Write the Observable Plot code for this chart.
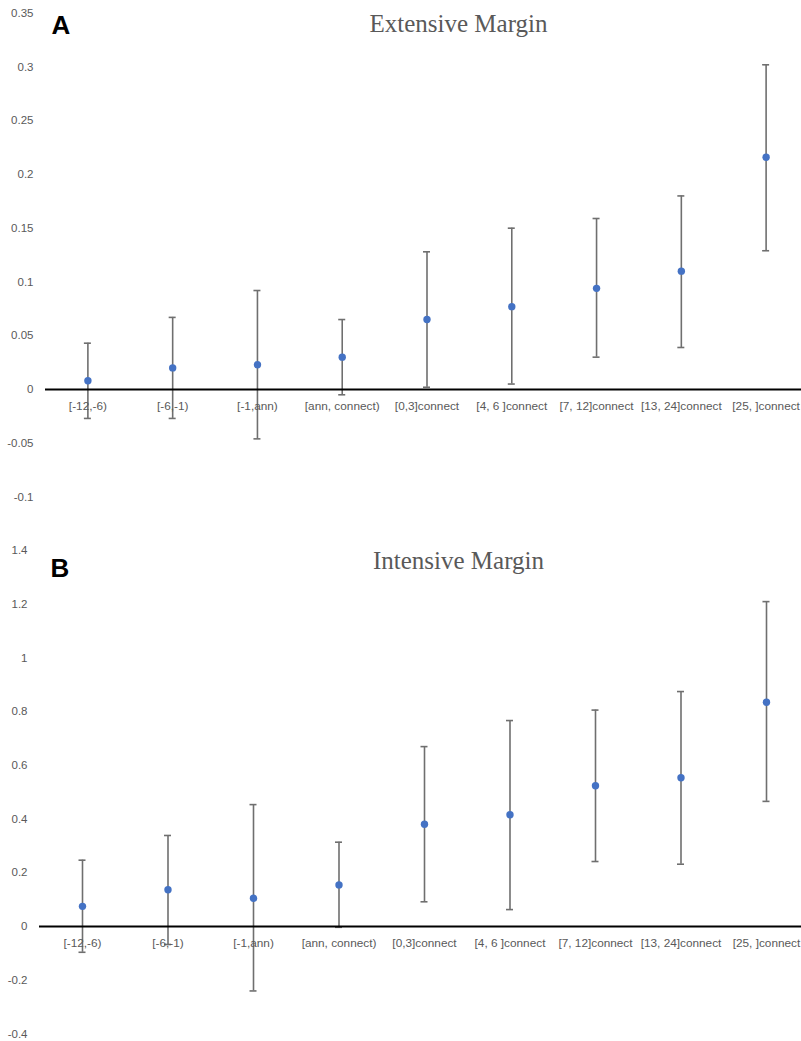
<!DOCTYPE html>
<html>
<head>
<meta charset="utf-8">
<script src="https://cdn.jsdelivr.net/npm/d3@7"></script>
<script src="https://cdn.jsdelivr.net/npm/@observablehq/plot@0.6"></script>
<style>
  html, body { margin: 0; padding: 0; background: #fff; }
  #wrap { position: relative; width: 801px; height: 1041px; overflow: hidden; }
  #wrap svg { display: block; }
  .title { position: absolute; font-family: "Liberation Serif", "Times New Roman", serif; font-size: 25px; line-height: 1; color: #595959; white-space: nowrap; transform: translateX(-50%); }
  .panel { position: absolute; font-family: "Liberation Sans", Arial, sans-serif; font-weight: bold; font-size: 26px; line-height: 1; color: #000; }
</style>
</head>
<body>
<div id="wrap"></div>
<script>
const categories = ["[-12,-6)", "[-6,-1)", "[-1,ann)", "[ann, connect)", "[0,3]connect", "[4, 6 ]connect", "[7, 12]connect", "[13, 24]connect", "[25, ]connect"];

const extEst  = [0.008, 0.020, 0.023, 0.030, 0.065, 0.077, 0.094, 0.110, 0.216];
const extLow  = [-0.027, -0.027, -0.046, -0.005, 0.002, 0.005, 0.030, 0.039, 0.129];
const extHigh = [0.043, 0.067, 0.092, 0.065, 0.128, 0.150, 0.159, 0.180, 0.302];

const intEst  = [0.075, 0.137, 0.105, 0.155, 0.381, 0.416, 0.524, 0.554, 0.835];
const intLow  = [-0.096, -0.067, -0.240, -0.003, 0.092, 0.063, 0.242, 0.232, 0.466];
const intHigh = [0.247, 0.339, 0.454, 0.314, 0.670, 0.767, 0.806, 0.875, 1.210];

const extTicks = [-0.1, -0.05, 0, 0.05, 0.1, 0.15, 0.2, 0.25, 0.3, 0.35];
const intTicks = [-0.4, -0.2, 0, 0.2, 0.4, 0.6, 0.8, 1, 1.2, 1.4];

const titles = ["Extensive Margin", "Intensive Margin"];
const panelLetters = ["A", "B"];

function makePanel({est, low, high, ticks, height, marginTop, marginBottom, marginLeft, xRange, tickPadding}) {
  const rows = categories.map((c, i) => ({cat: c, est: est[i], low: low[i], high: high[i]}));
  const bw = (xRange[1] - xRange[0]) / categories.length;
  const capInset = (bw - 7) / 2;
  return Plot.plot({
    width: 801,
    height,
    marginTop,
    marginBottom,
    marginLeft,
    marginRight: 0,
    style: {fontFamily: "'Liberation Sans', Arial, sans-serif", background: "#fff", overflow: "visible"},
    x: {type: "band", domain: categories, range: xRange, padding: 0, round: false, axis: null},
    y: {domain: [ticks[0], ticks[ticks.length - 1]], axis: null},
    marks: [
      Plot.axisY(ticks, {
        tickSize: 0,
        tickPadding,
        tickFormat: d => String(d),
        fill: "#595959",
        fontSize: 11.5
      }),
      Plot.ruleX(rows, {x: "cat", y1: "low", y2: "high", stroke: "#6f6f6f", strokeWidth: 1.6}),
      Plot.tickY(rows, {x: "cat", y: "low", stroke: "#6f6f6f", strokeWidth: 1.6, insetLeft: capInset, insetRight: capInset}),
      Plot.tickY(rows, {x: "cat", y: "high", stroke: "#6f6f6f", strokeWidth: 1.6, insetLeft: capInset, insetRight: capInset}),
      Plot.ruleY([0], {stroke: "#000", strokeWidth: 2}),
      Plot.text(rows, {x: "cat", y: () => 0, text: "cat", dy: 17, fill: "#595959", fontSize: 11.8, textAnchor: "middle", lineAnchor: "middle"}),
      Plot.dot(rows, {x: "cat", y: "est", r: 3.7, fill: "#4472C4", stroke: "none"})
    ]
  });
}

const wrap = document.getElementById("wrap");

const chartA = makePanel({
  est: extEst, low: extLow, high: extHigh, ticks: extTicks,
  height: 520, marginTop: 12.7, marginBottom: 23.6, marginLeft: 45,
  xRange: [45, 808], tickPadding: 12
});
const chartB = makePanel({
  est: intEst, low: intLow, high: intHigh, ticks: intTicks,
  height: 521, marginTop: 30.1, marginBottom: 7.6, marginLeft: 39,
  xRange: [39.25, 808.75], tickPadding: 12
});
wrap.appendChild(chartA);
wrap.appendChild(chartB);

function addText(cls, text, left, top) {
  const d = document.createElement("div");
  d.className = cls;
  d.textContent = text;
  d.style.left = left + "px";
  d.style.top = top + "px";
  wrap.appendChild(d);
}
addText("title", titles[0], 458.5, 11);
addText("title", titles[1], 458.5, 547.5);
addText("panel", panelLetters[0], 51.5, 12.3);
addText("panel", panelLetters[1], 50.5, 554.7);
</script>
</body>
</html>
